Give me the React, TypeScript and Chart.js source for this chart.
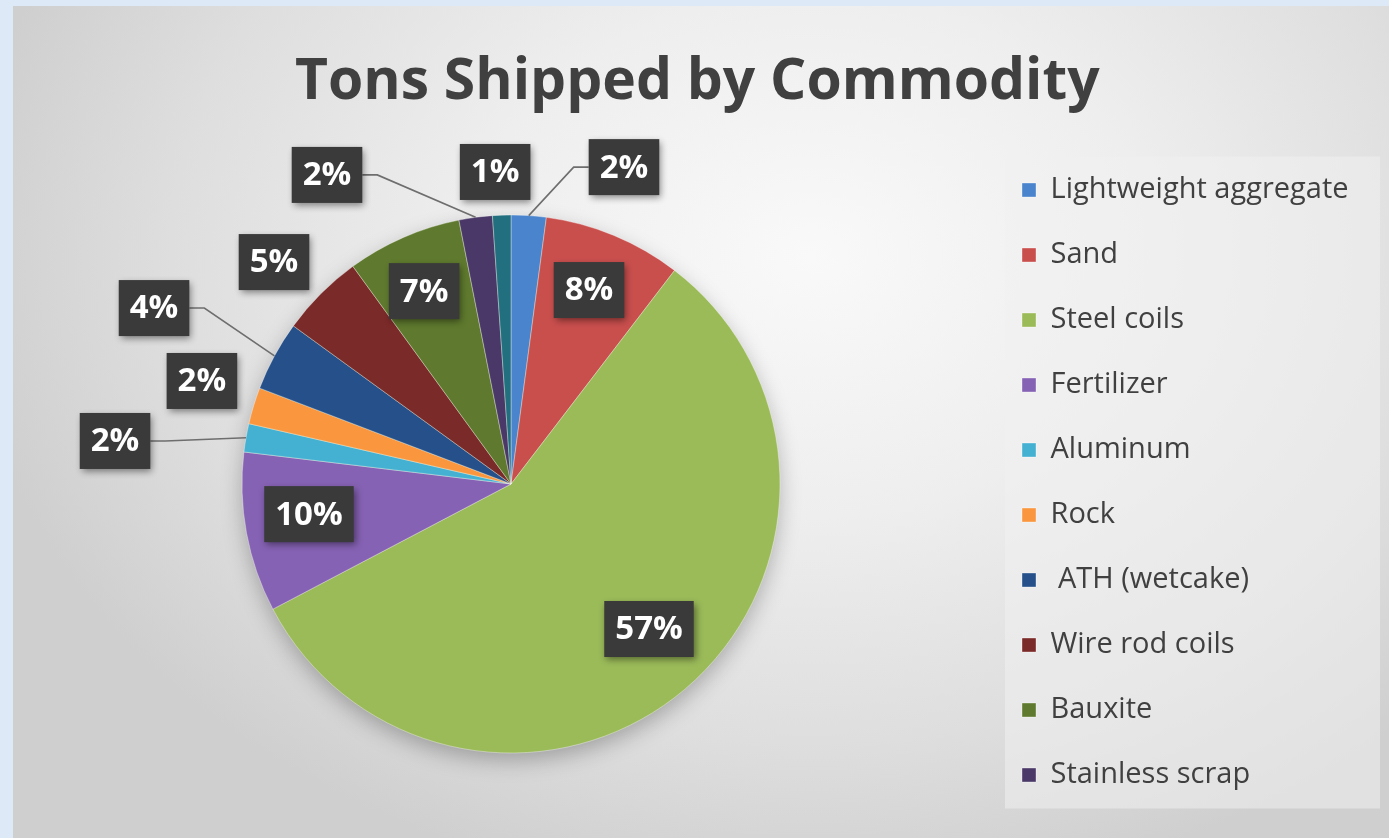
import React, { useEffect, useRef } from "react";
import { Chart, registerables } from "chart.js";

Chart.register(...registerables);

// ---- data ----
const chartTitle = "Tons Shipped by Commodity";
const commodities = [
  "Lightweight aggregate",
  "Sand",
  "Steel coils",
  "Fertilizer",
  "Aluminum",
  "Rock",
  " ATH (wetcake)",
  "Wire rod coils",
  "Bauxite",
  "Stainless scrap",
  "Other",
];
const sharePercent = [2.1, 8.3, 56.9, 9.6, 1.7, 2.2, 4.2, 5.0, 6.9, 2.0, 1.1];
const legendItemCount = 10; // the last slice is not listed in the legend

// ---- styles ----
const sliceColors = [
  "#4a84cc",
  "#c94f4d",
  "#9bbb59",
  "#8662b4",
  "#45b1d2",
  "#f9963e",
  "#25508a",
  "#7a2a29",
  "#5f7a2e",
  "#4a3868",
  "#22707f",
];
// label box centres relative to pie centre, in pie-radius units
const labelOffsets: [number, number][] = [
  [0.42, -1.178],
  [0.29, -0.721],
  [0.513, 0.539],
  [-0.751, 0.112],
  [-1.472, -0.16],
  [-1.149, -0.383],
  [-1.327, -0.654],
  [-0.881, -0.825],
  [-0.323, -0.717],
  [-0.684, -1.149],
  [-0.059, -1.16],
];

const W = 1389;
const H = 838;
const FONT = '"Open Sans", "DejaVu Sans", sans-serif';
const LEGEND_FS = 29;
const LEGEND_PAD = 36;
const LEFT_PAD = 36;
const LEGEND_LEFT = 986;
const LABEL_FS = 33;

const pieShadowPlugin = {
  id: "pieShadow",
  beforeDatasetsDraw(chart: any) {
    const el: any = chart.getDatasetMeta(0).data[0];
    if (!el) return;
    const { x, y, outerRadius } = el.getProps(["x", "y", "outerRadius"], true);
    const ctx = chart.ctx;
    ctx.save();
    ctx.shadowColor = "rgba(0,0,0,0.28)";
    ctx.shadowBlur = 22;
    ctx.shadowOffsetY = 8;
    ctx.fillStyle = "#9bbb59";
    ctx.beginPath();
    ctx.arc(x, y, outerRadius - 1, 0, Math.PI * 2);
    ctx.fill();
    ctx.restore();
  },
};

const legendPanelPlugin = {
  id: "legendPanel",
  beforeDraw(chart: any) {
    const lg = chart.legend;
    if (!lg || !lg.legendHitBoxes || !lg.legendHitBoxes.length) return;
    const hb = lg.legendHitBoxes;
    const first = hb[0];
    const last = hb[hb.length - 1];
    const x0 = first.left - 17;
    const y0 = first.top - 19;
    const x1 = first.left + 358;
    const y1 = last.top + LEGEND_FS + 19;
    const ctx = chart.ctx;
    ctx.save();
    ctx.fillStyle = "rgba(240,240,240,0.55)";
    ctx.fillRect(x0, y0, x1 - x0, y1 - y0);
    ctx.restore();
  },
};

const pctLabelPlugin = {
  id: "pctLabels",
  afterDatasetsDraw(chart: any) {
    const meta = chart.getDatasetMeta(0);
    const vals = chart.data.datasets[0].data as number[];
    const total = vals.reduce((a, b) => a + b, 0);
    const ctx = chart.ctx;
    ctx.save();
    ctx.font = `bold ${LABEL_FS}px ${FONT}`;
    meta.data.forEach((el: any, i: number) => {
      const { x, y, startAngle, endAngle, outerRadius } = el.getProps(
        ["x", "y", "startAngle", "endAngle", "outerRadius"],
        true
      );
      const mid = (startAngle + endAngle) / 2;
      const ax = x + Math.cos(mid) * outerRadius;
      const ay = y + Math.sin(mid) * outerRadius;
      const [ox, oy] = labelOffsets[i];
      const cx = x + ox * outerRadius;
      const cy = y + oy * outerRadius;
      const text = Math.round((vals[i] / total) * 100) + "%";
      const tw = ctx.measureText(text).width;
      const w = tw + 22;
      const h = 56;
      const bx = cx - w / 2;
      const by = cy - h / 2;
      const outside = Math.hypot(ox, oy) > 1;
      const nx = Math.max(bx, Math.min(ax, bx + w));
      const ny = Math.max(by, Math.min(ay, by + h));
      const dist = Math.hypot(ax - nx, ay - ny);
      if (outside && dist > 20) {
        ctx.beginPath();
        ctx.strokeStyle = "#6e6e6e";
        ctx.lineWidth = 1.6;
        if (ax > bx + w) {
          ctx.moveTo(bx + w, cy);
          ctx.lineTo(bx + w + 15, cy);
        } else if (ax < bx) {
          ctx.moveTo(bx, cy);
          ctx.lineTo(bx - 15, cy);
        } else {
          ctx.moveTo(ax, by + h);
        }
        ctx.lineTo(ax, ay);
        ctx.stroke();
      }
      ctx.save();
      ctx.shadowColor = "rgba(0,0,0,0.45)";
      ctx.shadowBlur = 7;
      ctx.shadowOffsetX = 2;
      ctx.shadowOffsetY = 3;
      ctx.fillStyle = "#3a3a3a";
      ctx.fillRect(bx, by, w, h);
      ctx.restore();
      ctx.fillStyle = "#ffffff";
      ctx.textAlign = "center";
      ctx.textBaseline = "middle";
      ctx.fillText(text, cx, cy + 1);
    });
    ctx.restore();
  },
};

export default function App() {
  const canvasRef = useRef<HTMLCanvasElement | null>(null);

  useEffect(() => {
    if (!canvasRef.current) return;
    const chart = new Chart(canvasRef.current, {
      type: "pie",
      data: {
        labels: commodities,
        datasets: [
          {
            data: sharePercent,
            backgroundColor: sliceColors,
            borderColor: "rgba(255,255,255,0.35)",
            borderWidth: 1,
            radius: 269,
          } as any,
        ],
      },
      options: {
        responsive: false,
        animation: false,
        events: [],
        rotation: 0,
        layout: { padding: { top: 0, bottom: 8, left: LEFT_PAD, right: 20 } },
        plugins: {
          tooltip: { enabled: false },
          title: {
            display: true,
            text: chartTitle,
            color: "#404040",
            font: { family: FONT, size: 57, weight: "bold", lineHeight: 1.2 },
            padding: { top: 49, bottom: 20.6 },
          },
          legend: {
            display: true,
            position: "right",
            align: "start",
            title: {
              display: true,
              text: " ",
              font: { size: 10, lineHeight: 1 },
              padding: { top: 129.5, bottom: 0 },
            },
            labels: {
              color: "#404040",
              font: { family: FONT, size: LEGEND_FS },
              boxWidth: 14,
              boxHeight: 14,
              padding: LEGEND_PAD,
              filter: (item: any) => item.index < legendItemCount,
            },
          },
        },
      },
      plugins: [legendPanelPlugin, pieShadowPlugin, pctLabelPlugin],
    });
    // place the legend so that its items start where the reference shows them
    const lw = chart.legend ? chart.legend.width : 380;
    (chart.options.layout as any).padding.right = Math.max(0, W - LEGEND_LEFT - lw);
    chart.update();
    return () => chart.destroy();
  }, []);

  return (
    <div
      style={{
        position: "fixed",
        left: 0,
        top: 0,
        width: W,
        height: H,
        background: "#dde9f6",
        overflow: "hidden",
      }}
    >
      <div
        style={{
          position: "absolute",
          left: 13,
          top: 6,
          right: 0,
          bottom: 0,
          background:
            "radial-gradient(ellipse 62% 78% at 58% 30%, #f9f9f9 0%, #eeeeee 40%, #dedede 75%, #cfcfcf 100%)",
        }}
      />
      <canvas
        ref={canvasRef}
        width={W}
        height={H}
        style={{ position: "absolute", left: 0, top: 0, width: W, height: H }}
      />
    </div>
  );
}
